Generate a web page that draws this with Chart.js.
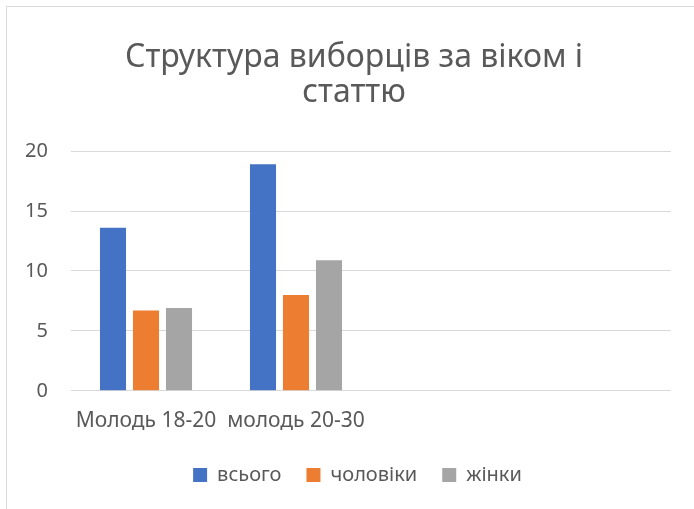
<!DOCTYPE html>
<html lang="uk">
<head>
<meta charset="UTF-8" />
<title>Структура виборців</title>
<script src="https://cdn.jsdelivr.net/npm/chart.js"></script>
<style>
  html, body { margin: 0; padding: 0; background: #fff; }
  #wrap { width: 694px; height: 509px; position: relative; }
</style>
</head>
<body>
<div id="wrap"><canvas id="chart" width="694" height="509"></canvas></div>
<script>
// categories (the last two are empty in the source chart)
const categories = ['Молодь 18-20', 'молодь 20-30', '', '']
const seriesNames = ['всього', 'чоловіки', 'жінки']
const totalValues = [13.6, 18.9, null, null]
const maleValues = [6.7, 8.0, null, null]
const femaleValues = [6.9, 10.9, null, null]
const yTicks = [0, 5, 10, 15, 20]

const colors = ['#4472C4', '#ED7D31', '#A5A5A5']
const textColor = '#595959'
const font = '"Noto Sans", "Open Sans", sans-serif'

// thin frame along top and left edges, like the original export
const framePlugin = {
  id: 'frame',
  beforeDraw(chart) {
    const c = chart.ctx
    c.save()
    c.fillStyle = '#fff'
    c.fillRect(0, 0, chart.width, chart.height)
    c.strokeStyle = '#d9d9d9'
    c.lineWidth = 1
    c.beginPath()
    c.moveTo(6.5, chart.height)
    c.lineTo(6.5, 6.5)
    c.lineTo(chart.width, 6.5)
    c.stroke()
    c.restore()
  },
  // title and legend are centred on the whole frame, not on the plot box
  afterLayout(chart) {
    if (chart.titleBlock) chart.titleBlock.left += 37
    if (chart.legend) chart.legend.left += 44
  }
}

const data = {
  labels: categories,
  datasets: [totalValues, maleValues, femaleValues].map((vals, i) => ({
    label: seriesNames[i],
    data: vals,
    backgroundColor: colors[i],
    borderWidth: 0,
    categoryPercentage: 0.66,
    barPercentage: 0.79
  }))
}

new Chart(document.getElementById('chart'), {
  type: 'bar',
  data: data,
  plugins: [framePlugin],
  options: {
    responsive: false,
    animation: false,
    layout: { padding: { left: 0, right: 23, top: 0, bottom: 14 } },
    plugins: {
      title: {
        display: true,
        text: ['Структура виборців за віком і', 'статтю'],
        color: textColor,
        font: { family: font, size: 32, weight: 'normal', lineHeight: 1.08 },
        padding: { top: 41, bottom: 41 }
      },
      legend: {
        position: 'bottom',
        labels: {
          color: textColor,
          font: { family: font, size: 20 },
          boxWidth: 14,
          boxHeight: 14,
          padding: 25
        }
      },
      tooltip: { enabled: false }
    },
    scales: {
      x: {
        grid: { display: false },
        border: { display: false },
        afterFit(scale) {
          scale.height -= 4
        },
        ticks: {
          color: textColor,
          font: { family: font, size: 21 },
          padding: 10,
          maxRotation: 0,
          autoSkip: false
        }
      },
      y: {
        min: 0,
        max: 20,
        afterBuildTicks(scale) {
          scale.ticks = yTicks.map(v => ({ value: v }))
        },
        afterFit(scale) {
          scale.width = 71
        },
        grid: { color: '#d9d9d9', drawTicks: false },
        border: { display: false },
        ticks: {
          color: textColor,
          font: { family: font, size: 20 },
          padding: 23
        }
      }
    }
  }
})
</script>
</body>
</html>
